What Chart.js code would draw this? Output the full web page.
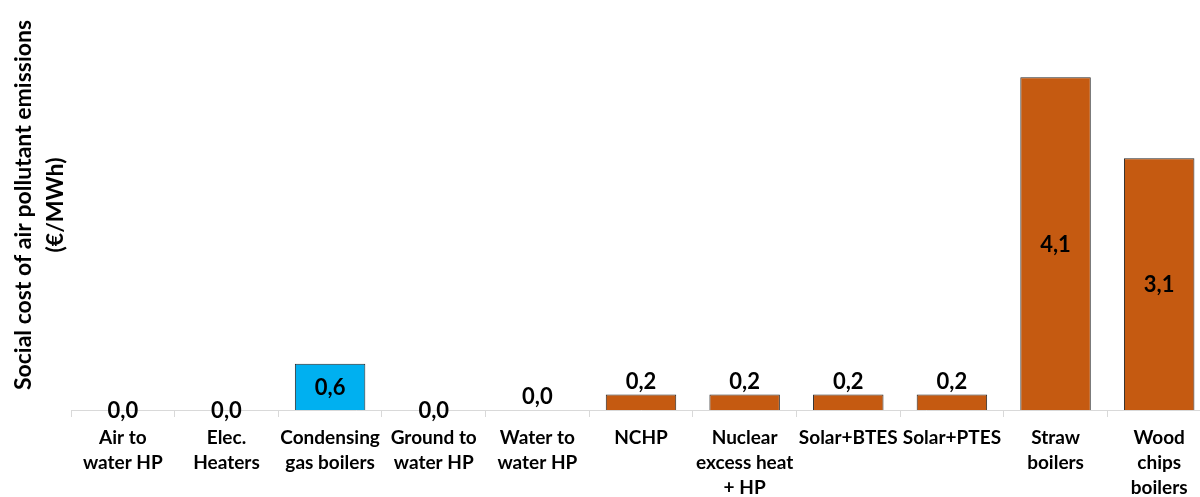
<!DOCTYPE html>
<html>
<head>
<meta charset="utf-8">
<script src="https://cdn.jsdelivr.net/npm/chart.js@4"></script>
<style>
  html, body { margin: 0; padding: 0; background: #fff; overflow: hidden; }
</style>
</head>
<body>
<canvas id="chart" width="1214" height="497"></canvas>
<script>
const categories = [
    ['Air to', 'water HP'],
    ['Elec.', 'Heaters'],
    ['Condensing', 'gas boilers'],
    ['Ground to', 'water HP'],
    ['Water to', 'water HP'],
    ['NCHP'],
    ['Nuclear', 'excess heat', '+ HP'],
    ['Solar+BTES'],
    ['Solar+PTES'],
    ['Straw', 'boilers'],
    ['Wood', 'chips', 'boilers']
];
const values = [0, 0, 0.57, 0, 0, 0.19, 0.19, 0.19, 0.19, 4.1, 3.1];
const yTitle = ['Social cost of air pollutant emissions', '(€/MWh)'];

const ORANGE = '#C55A11';
const BLUE = '#00B0F0';
const barColors = values.map((v, i) => i === 2 ? BLUE : ORANGE);
// where each value label sits: centred on the bar or just above it
const labelModes = ['center', 'center', 'center', 'center', 'end', 'end', 'end', 'end', 'end', 'center', 'center'];

const valueLabels = {
    id: 'valueLabels',
    afterDatasetsDraw(chart) {
        const ctx = chart.ctx;
        chart.getDatasetMeta(0).data.forEach((bar, i) => {
            const txt = values[i].toFixed(1).replace('.', ',');
            const y = labelModes[i] === 'center' ? (bar.y + bar.base) / 2 + 1 : bar.y - 13;
            ctx.save();
            ctx.font = 'bold 22px Lato';
            ctx.fillStyle = '#000';
            ctx.textAlign = 'center';
            ctx.textBaseline = 'middle';
            ctx.fillText(txt, bar.x, y);
            ctx.restore();
        });
    }
};

new Chart(document.getElementById('chart'), {
    type: 'bar',
    data: {
        labels: categories,
        datasets: [{
            data: values,
            backgroundColor: barColors,
            borderColor: '#262626',
            borderWidth: values.map(v => v === 0 ? 0 : 1),
            categoryPercentage: 1,
            barPercentage: 0.68
        }]
    },
    options: {
        responsive: false,
        animation: false,
        layout: { padding: { left: 0, right: 3, top: 0, bottom: 0 } },
        plugins: {
            legend: { display: false },
            tooltip: { enabled: false }
        },
        scales: {
            x: {
                grid: { offset: true, drawOnChartArea: false, tickLength: 7, color: '#d9d9d9' },
                border: { color: '#d9d9d9', width: 1 },
                ticks: {
                    color: '#000',
                    padding: 8,
                    maxRotation: 0,
                    autoSkip: false,
                    font: { family: 'Lato', size: 19, weight: 'bold', lineHeight: '25px' }
                },
                afterFit(axis) { axis.height = 87; }
            },
            y: {
                min: 0,
                max: 5.05,
                grid: { display: false },
                border: { display: false },
                ticks: { display: false },
                title: {
                    display: true,
                    text: yTitle,
                    color: '#000',
                    padding: { top: 8, bottom: 0 },
                    font: { family: 'Lato', size: 23, weight: 'bold', lineHeight: '32px' }
                },
                afterFit(axis) { axis.width = 71; }
            }
        }
    },
    plugins: [valueLabels]
});
</script>
</body>
</html>
